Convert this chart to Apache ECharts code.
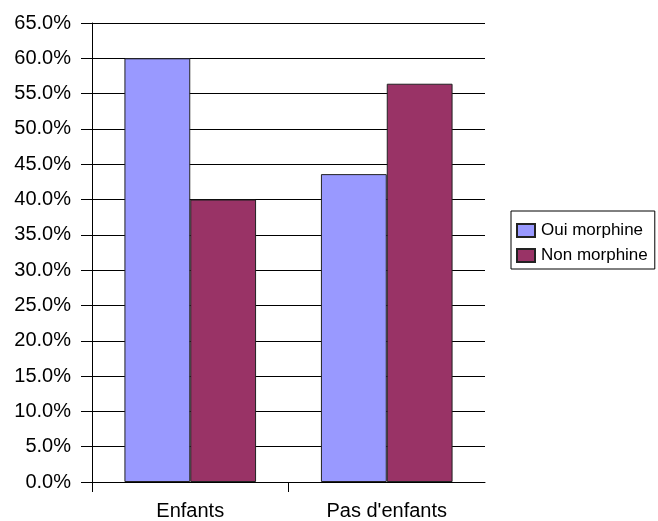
<!DOCTYPE html>
<html>
<head>
<meta charset="utf-8">
<script src="https://cdn.jsdelivr.net/npm/echarts@6/dist/echarts.min.js"></script>
<style>
  html, body { margin: 0; padding: 0; background: #fff; }
  #chart { width: 658px; height: 521px; }
</style>
</head>
<body>
<div id="chart"></div>
<script>
// Share of patients given morphine, by whether they have children
const categories = ['Enfants', "Pas d'enfants"];
const seriesNames = ['Oui morphine', 'Non morphine'];
const ouiMorphine = [60.0, 43.6];
const nonMorphine = [40.0, 56.4];
const yTicks = { min: 0, max: 65, step: 5 };

const FONT = '"Liberation Sans", Arial, sans-serif';
const chart = echarts.init(document.getElementById('chart'), null, { renderer: 'canvas' });

chart.setOption({
  animation: false,
  backgroundColor: '#ffffff',
  textStyle: { fontFamily: FONT, color: '#000' },
  grid: { left: 92, right: 173, top: 23, bottom: 38, containLabel: false },
  legend: {
    orient: 'vertical',
    left: 511,
    top: 211,
    padding: [11, 7, 5, 5],
    itemGap: 8,
    itemWidth: 18,
    itemHeight: 13,
    icon: 'rect',
    borderColor: '#000',
    borderWidth: 1,
    backgroundColor: '#fff',
    textStyle: { fontFamily: FONT, fontSize: 17, color: '#000', padding: [0, 0, 0, 1] },
    data: seriesNames
  },
  xAxis: [
    {
      type: 'category',
      data: categories,
      boundaryGap: true,
      axisLine: { show: true, lineStyle: { color: '#000', width: 1 } },
      axisTick: { show: false },
      axisLabel: { fontFamily: FONT, fontSize: 20, color: '#000', margin: 19 },
      splitLine: { show: false }
    },
    {
      // tick marks at the category boundaries, left and middle only
      type: 'value',
      position: 'bottom',
      min: 0,
      max: categories.length,
      interval: 1,
      axisLine: { show: false },
      axisTick: { show: true, length: 10, customValues: [0, 1], lineStyle: { color: '#000', width: 1 } },
      axisLabel: { show: false },
      splitLine: { show: false }
    }
  ],
  yAxis: {
    type: 'value',
    min: yTicks.min,
    max: yTicks.max,
    interval: yTicks.step,
    axisLine: { show: true, lineStyle: { color: '#000', width: 1 } },
    axisTick: { show: true, inside: false, length: 11, lineStyle: { color: '#000', width: 1 } },
    axisLabel: {
      fontFamily: FONT, fontSize: 20, color: '#000', margin: 21,
      formatter: v => v.toFixed(1) + '%'
    },
    splitLine: { show: true, lineStyle: { color: '#000', width: 1 } }
  },
  series: [
    {
      name: seriesNames[0],
      type: 'bar',
      xAxisIndex: 0,
      data: ouiMorphine,
      barGap: '0%',
      barCategoryGap: '33%',
      itemStyle: { color: '#9999FF', borderColor: '#222', borderWidth: 1 }
    },
    {
      name: seriesNames[1],
      type: 'bar',
      xAxisIndex: 0,
      data: nonMorphine,
      barGap: '0%',
      barCategoryGap: '33%',
      itemStyle: { color: '#993366', borderColor: '#222', borderWidth: 1 }
    }
  ]
});
</script>
</body>
</html>
